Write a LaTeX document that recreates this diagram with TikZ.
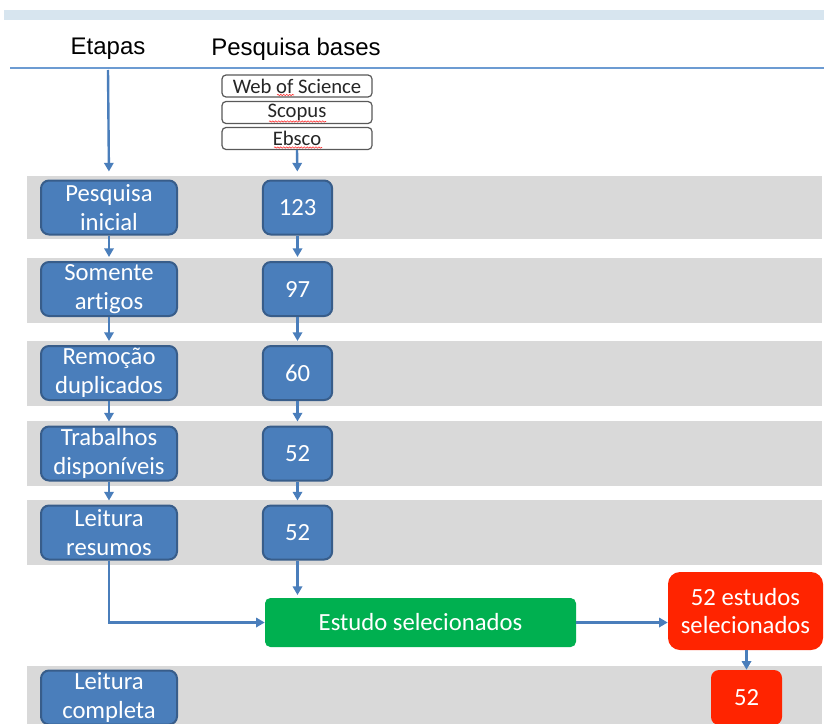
\documentclass[tikz,border=0pt]{standalone}
\usepackage{fontspec}
\setmainfont{Carlito}[Ligatures=NoCommon]
\newfontfamily\arialf{Liberation Sans}
\usetikzlibrary{arrows.meta,decorations.pathmorphing}
\definecolor{bandgrey}{HTML}{D9D9D9}
\definecolor{topband}{HTML}{D7E5EF}
\definecolor{boxblue}{HTML}{4A7EBB}
\definecolor{boxedge}{HTML}{385D8A}
\definecolor{arrowblue}{HTML}{4A7EBB}
\definecolor{linecol}{HTML}{6C9BD2}
\definecolor{greenbox}{HTML}{00B050}
\definecolor{redbox}{HTML}{FF2400}
\tikzset{
  stagebox/.style={draw=boxedge, line width=1.5pt, fill=boxblue, rounded corners=6pt,
    text=white, font=\fontsize{18.5}{21.5}\selectfont, align=center,
    minimum width=102pt, minimum height=40.5pt, inner sep=0pt},
  numbox/.style={stagebox, minimum width=52pt},
  srcbox/.style={draw=black!65, line width=0.9pt, fill=white, rounded corners=3pt,
    text=black!85, font=\fontsize{15.5}{16}\selectfont, minimum width=112.5pt,
    minimum height=16.5pt, inner sep=0pt},
  greenst/.style={fill=greenbox, rounded corners=4pt, text=white,
    font=\fontsize{18.5}{21.5}\selectfont, minimum width=233.25pt, minimum height=36.75pt, inner sep=0pt},
  redst/.style={fill=redbox, rounded corners=9pt, text=white, align=center,
    font=\fontsize{18.5}{21.5}\selectfont, minimum width=116.25pt, minimum height=58.5pt, inner sep=0pt},
  redsmall/.style={redst, rounded corners=6pt, minimum width=53.25pt, minimum height=41.25pt},
  band/.style={fill=bandgrey, draw=none},
  conn/.style={draw=arrowblue, line width=1.8pt, -{Triangle[length=6.5pt,width=7pt]}},
  spell/.style={draw=red!80, line width=0.45pt, decorate,
    decoration={snake, amplitude=0.5pt, segment length=2.2pt}},
  header/.style={font=\arialf\fontsize{18}{20}\selectfont, text=black, inner sep=0pt}
}
\begin{document}
\begin{tikzpicture}[x=0.75pt,y=-0.75pt]
\useasboundingbox (0,0) rectangle (824,724);
\clip (0,0) rectangle (824,724);
\fill[white] (0,0) rectangle (824,724);
% top band and rule
\fill[topband] (4,10) rectangle (824,20);
\draw[linecol, line width=0.8pt] (10,68) -- (824,68);
% grey bands
\fill[band] (27,176) rectangle (822,239);
\fill[band] (27,258) rectangle (822,323);
\fill[band] (27,341) rectangle (822,406);
\fill[band] (27,421) rectangle (822,486);
\fill[band] (27,500) rectangle (822,565);
\fill[band] (27,666) rectangle (822,730);
% headers
\node[header] (hEtapas) at (108,49) {Etapas};
\node[header] (hBases) at (296,49) {Pesquisa bases};
\coordinate (etapasStart) at (108,70);
% sources
\node[srcbox] (wos) at (297,86) {Web of Science};
\node[srcbox] (scopus) at (297,112.5) {Scopus};
\node[srcbox] (ebsco) at (297,138.5) {Ebsco};
\draw[spell] (277,95) -- (294,95);
\draw[spell] (269,121.5) -- (326,121.5);
\draw[spell] (274,147.5) -- (322,147.5);
% stage boxes
\node[stagebox] (s1) at (109,207.5) {Pesquisa\\inicial};
\node[stagebox] (s2) at (109,289) {Somente\\artigos};
\node[stagebox] (s3) at (109,373) {Remoção\\duplicados};
\node[stagebox] (s4) at (109,453.5) {Trabalhos\\disponíveis};
\node[stagebox] (s5) at (109,532.5) {Leitura\\resumos};
\node[stagebox] (s6) at (109,697.5) {Leitura\\completa};
% number boxes
\node[numbox] (n1) at (297.5,207.5) {123};
\node[numbox] (n2) at (297.5,289) {97};
\node[numbox] (n3) at (297.5,373) {60};
\node[numbox] (n4) at (297.5,453.5) {52};
\node[numbox] (n5) at (297.5,532.5) {52};
% results
\node[greenst] (sel) at (420.5,622.5) {Estudo selecionados};
\node[redst] (red1) at (745.5,611) {52 estudos\\selecionados};
\node[redsmall] (red2) at (746.5,697.5) {52};
% connectors
\draw[conn, shorten >=6pt] (etapasStart) -- (s1.north);
\draw[conn, shorten >=6pt] (ebsco.south) -- (n1.north);
\draw[conn, shorten >=3pt] (s1) -- (s2);
\draw[conn, shorten >=3pt] (s2) -- (s3);
\draw[conn, shorten >=3pt] (s3) -- (s4);
\draw[conn, shorten >=3pt] (s4) -- (s5);
\draw[conn, shorten >=3pt] (n1) -- (n2);
\draw[conn, shorten >=3pt] (n2) -- (n3);
\draw[conn, shorten >=3pt] (n3) -- (n4);
\draw[conn, shorten >=3pt] (n4) -- (n5);
\draw[conn, shorten >=2pt] (n5.south) -- (n5.south |- sel.north);
\draw[conn] (s5.south) |- (sel.west);
\draw[conn] (sel.east) -- (sel.east -| red1.west);
\draw[conn] (red1.south -| red2.north) -- (red2.north);
\end{tikzpicture}
\end{document}
